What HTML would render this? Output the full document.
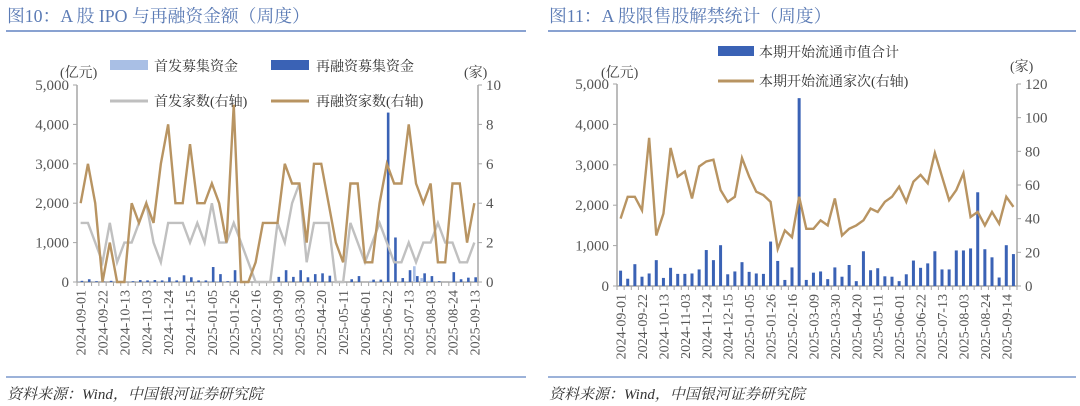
<!DOCTYPE html>
<html><head><meta charset="utf-8"><style>
html,body{margin:0;padding:0;background:#fff;}
svg{display:block;font-family:"Liberation Serif","Noto Serif CJK SC",serif;}
</style></head><body>
<svg id="svg" width="1080" height="406" viewBox="0 0 1080 406" xmlns="http://www.w3.org/2000/svg">
<text x="7" y="22" font-size="17.8" fill="#5b7bb5">图10：A 股 IPO 与再融资金额（周度）</text>
<line x1="6" y1="31" x2="526" y2="31" stroke="#6283c2" stroke-width="1.5"/>
<text x="549" y="22" font-size="17.8" fill="#5b7bb5">图11：A 股限售股解禁统计（周度）</text>
<line x1="548" y1="31" x2="1076" y2="31" stroke="#6283c2" stroke-width="1.5"/>
<line x1="6" y1="377" x2="526" y2="377" stroke="#6283c2" stroke-width="1.2"/>
<line x1="548" y1="377" x2="1076" y2="377" stroke="#6283c2" stroke-width="1.2"/>
<text x="7" y="399" font-size="15" font-style="italic" fill="#333">资料来源：Wind，中国银河证券研究院</text>
<text x="549" y="399" font-size="15" font-style="italic" fill="#333">资料来源：Wind，中国银河证券研究院</text>

<rect x="110" y="60" width="38" height="10" fill="#a9bfe5"/>
<text x="154" y="71" font-size="14" fill="#333">首发募集资金</text>
<rect x="271" y="60" width="38" height="10" fill="#3a62b5"/>
<text x="316" y="71" font-size="14" fill="#333">再融资募集资金</text>
<line x1="110" y1="101" x2="148" y2="101" stroke="#bfbfbf" stroke-width="3"/>
<text x="154" y="106" font-size="14" fill="#333">首发家数(右轴)</text>
<line x1="271" y1="101" x2="309" y2="101" stroke="#b89462" stroke-width="3"/>
<text x="316" y="106" font-size="14" fill="#333">再融资家数(右轴)</text>
<text x="60" y="77" font-size="14" fill="#444">(亿元)</text>
<text x="464" y="77" font-size="14" fill="#444">(家)</text>

<rect x="718" y="46" width="36" height="10" fill="#3a62b5"/>
<text x="759" y="57" font-size="14" fill="#333">本期开始流通市值合计</text>
<line x1="718" y1="81" x2="754" y2="81" stroke="#b89462" stroke-width="3"/>
<text x="759" y="86" font-size="14" fill="#333">本期开始流通家次(右轴)</text>
<text x="601" y="77" font-size="14" fill="#444">(亿元)</text>
<text x="1010" y="71" font-size="14" fill="#444">(家)</text>
<g id="g1"></g>
<g id="g2"></g>
</svg>
<script>
const c1Labels = ["2024-09-01","2024-09-22","2024-10-13","2024-11-03","2024-11-24","2024-12-15","2025-01-05","2025-01-26","2025-02-16","2025-03-09","2025-03-30","2025-04-20","2025-05-11","2025-06-01","2025-06-22","2025-07-13","2025-08-03","2025-08-24","2025-09-13"];
const c1IpoAmount = [10,0,10,0,0,10,0,10,10,10,10,10,20,10,20,10,10,10,20,20,10,10,0,0,0,0,0,0,0,0,0,0,10,10,0,0,0,0,0,0,30,10,20,10,10,20,400,100,30,10,0,10,10,10,10];
const c1RefiAmount = [30,70,20,10,30,10,0,20,50,40,50,40,120,40,170,120,40,40,380,200,20,300,0,0,0,0,0,130,300,130,300,120,200,220,160,0,0,70,150,0,60,60,4300,1130,100,300,150,220,150,20,0,250,70,110,120];
const c1IpoCount = [3,3,2,1,3,1,2,2,3,4,2,1,3,3,3,2,3,2,4,2,2,3,2,1,0,0,0,3,2,4,5,1,3,3,3,0,0,3,2,1,2,3,2,1,1,2,1,2,2,3,2,2,1,1,2];
const c1RefiCount = [4,6,4,0,2,0,0,4,3,4,3,6,8,4,4,7,4,4,5,4,2,9,0,0,1,3,3,3,6,5,5,2,6,6,4,2,1,5,5,1,1,4,6,5,5,8,5,4,5,1,1,5,5,2,4];
const c1LeftTicks = ["0","1,000","2,000","3,000","4,000","5,000"];
const c1RightTicks = ["0","2","4","6","8","10"];
const c2Labels = ["2024-09-01","2024-09-22","2024-10-13","2024-11-03","2024-11-24","2024-12-15","2025-01-05","2025-01-26","2025-02-16","2025-03-09","2025-03-30","2025-04-20","2025-05-11","2025-06-01","2025-06-22","2025-07-13","2025-08-03","2025-08-24","2025-09-14"];
const c2Value = [380,180,540,230,310,640,200,450,300,300,310,410,890,640,1010,290,360,590,350,310,300,1100,620,150,460,4650,150,330,360,170,460,230,520,120,860,390,440,240,230,120,290,630,450,560,860,410,410,880,880,930,2320,910,710,210,1010,790];
const c2Count = [40,53,53,45,88,30,43,82,65,68,52,71,74,75,57,50,53,76,65,56,54,50,22,33,29,53,34,34,39,36,52,30,34,36,39,46,44,50,53,59,50,62,66,61,79,65,51,57,67,41,44,36,44,37,53,47];
const c2LeftTicks = ["0","1,000","2,000","3,000","4,000","5,000"];
const c2RightTicks = ["0","20","40","60","80","100","120"];

const NS="http://www.w3.org/2000/svg";
function mk(parent,tag,attrs){const e=document.createElementNS(NS,tag);for(const k in attrs)e.setAttribute(k,attrs[k]);parent.appendChild(e);return e;}

function drawChart(g, cfg){
  const n=cfg.n, x0=cfg.x0, x1=cfg.x1, yT=cfg.yT, yB=cfg.yB;
  const band=(x1-x0)/n;
  const xc=i=>x0+band*(i+0.5);
  const yL=v=>yB-(v/cfg.lMax)*(yB-yT);
  const yR=v=>yB-(v/cfg.rMax)*(yB-yT);
  let a=mk(g,'line',{x1:x0,y1:yT,x2:x0,y2:yB,stroke:'#a6a6a6','stroke-width':1.5});
  
  
  a=mk(g,'line',{x1:x1,y1:yT,x2:x1,y2:yB,stroke:'#a6a6a6','stroke-width':1.5});
  
  
  a=mk(g,'line',{x1:x0,y1:yB,x2:x1,y2:yB,stroke:'#a6a6a6','stroke-width':1.5});
  
  
  cfg.lTicks.forEach((t,i)=>{
    const v=i*cfg.lMax/(cfg.lTicks.length-1), y=yL(v);
    mk(g,'line',{x1:x0-4,y1:y,x2:x0,y2:y,stroke:'#a6a6a6'});
    const tx=mk(g,'text',{x:x0-8,y:y+5,'font-size':15,fill:'#555','text-anchor':'end'});
    tx.textContent=t;
    
    
  });
  cfg.rTicks.forEach((t,i)=>{
    const v=i*cfg.rMax/(cfg.rTicks.length-1), y=yR(v);
    mk(g,'line',{x1:x1,y1:y,x2:x1+4,y2:y,stroke:'#a6a6a6'});
    const tx=mk(g,'text',{x:x1+8,y:y+5,'font-size':15,fill:'#555'});
    tx.textContent=t;
    
    
  });
  for(let i=0;i<=n;i++){const x=x0+band*i;mk(g,'line',{x1:x,y1:yB,x2:x,y2:yB+4,stroke:'#a6a6a6'});}
  cfg.labels.forEach((t,j)=>{
    const x=xc(j*3);
    const tx=mk(g,'text',{x:0,y:0,'font-size':14,fill:'#555','text-anchor':'end',transform:`translate(${x+5},${yB+8}) rotate(-90)`});
    tx.textContent=t;
    
    
  });
  cfg.bars.forEach(bs=>{
    bs.data.forEach((v,i)=>{
      if(v<=0) return;
      const r=mk(g,'rect',{x:xc(i)+bs.off,y:yL(v),width:bs.w,height:yB-yL(v),fill:bs.color});
      
      
    });
  });
  cfg.lines.forEach(ls=>{
    const d=ls.data.map((v,i)=>(i?'L':'M')+xc(i).toFixed(2)+','+yR(v).toFixed(2)).join(' ');
    const p=mk(g,'path',{d:d,fill:'none',stroke:ls.color,'stroke-width':2.4,'stroke-linejoin':'miter'});
    
    
  });
}
drawChart(document.getElementById('g1'),{n:c1RefiCount.length,x0:77,x1:478,yT:85,yB:282,lMax:5000,rMax:10,
  lTicks:c1LeftTicks,rTicks:c1RightTicks,labels:c1Labels,
  bars:[{data:c1IpoAmount,color:'#a9bfe5',off:-3,w:2.6,name:'ipo-amount-bar'},{data:c1RefiAmount,color:'#3a62b5',off:0,w:2.6,name:'refi-amount-bar'}],
  lines:[{data:c1IpoCount,color:'#c0c0c0',name:'ipo-count-line'},{data:c1RefiCount,color:'#b89462',name:'refi-count-line'}]});
drawChart(document.getElementById('g2'),{n:c2Count.length,x0:617,x1:1017,yT:84,yB:286,lMax:5000,rMax:120,
  lTicks:c2LeftTicks,rTicks:c2RightTicks,labels:c2Labels,
  bars:[{data:c2Value,color:'#3a62b5',off:-1.5,w:3,name:'unlock-value-bar'}],
  lines:[{data:c2Count,color:'#b89462',name:'unlock-count-line'}]});
</script>
</body></html>
